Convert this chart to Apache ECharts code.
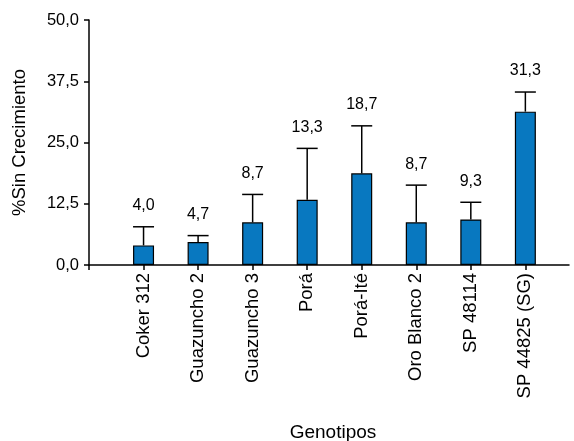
<!DOCTYPE html>
<html>
<head>
<meta charset="utf-8">
<script src="https://cdn.jsdelivr.net/npm/echarts@6/dist/echarts.min.js"></script>
<style>
  html, body { margin: 0; padding: 0; background: #ffffff; }
  #chart { width: 574px; height: 441px; }
</style>
</head>
<body>
<div id="chart"></div>
<script>
// Genotypes and their mean % without growth, with the upper error (SD) of each
const genotipos = ['Coker 312', 'Guazuncho 2', 'Guazuncho 3', 'Porá', 'Porá-Ité', 'Oro Blanco 2', 'SP 48114', 'SP 44825 (SG)'];
const medias = [4.0, 4.7, 8.7, 13.3, 18.7, 8.7, 9.3, 31.3];
const errores = [3.8, 1.3, 5.7, 10.5, 9.7, 7.6, 3.5, 4.0];
const yTicks = [0, 12.5, 25, 37.5, 50];

const fmt = v => v.toFixed(1).replace('.', ',');
const FONT = 'Liberation Sans, Arial, sans-serif';

const barData = medias.map((m, i) => [i, m]);
const errData = medias.map((m, i) => [i, m, errores[i]]);
const catIdx = genotipos.map((_, i) => i);

const chart = echarts.init(document.getElementById('chart'), null, { renderer: 'canvas' });

chart.setOption({
  animation: false,
  backgroundColor: '#ffffff',
  grid: { left: 89, right: 5, top: 20, bottom: 176, containLabel: false, outerBoundsMode: 'none' },
  xAxis: {
    type: 'value',
    min: -1,
    max: 7.8,
    interval: 1,
    name: 'Genotipos',
    nameLocation: 'middle',
    nameGap: 158,
    nameTextStyle: { fontFamily: FONT, fontSize: 19, color: '#000', padding: [0, 0, 0, 8] },
    splitLine: { show: false },
    axisLine: { show: true, onZero: false, lineStyle: { color: '#000', width: 1.5 } },
    axisTick: { show: true, length: 5, lineStyle: { color: '#000', width: 1.5 },
                customValues: [-1].concat(catIdx) },
    axisLabel: {
      customValues: catIdx,
      rotate: 90,
      margin: 8,
      fontFamily: FONT, fontSize: 18.5, color: '#000',
      formatter: v => genotipos[Math.round(v)] || ''
    }
  },
  yAxis: {
    type: 'value',
    min: yTicks[0],
    max: yTicks[yTicks.length - 1],
    interval: 12.5,
    name: '%Sin Crecimiento',
    nameLocation: 'middle',
    nameGap: 60,
    nameTextStyle: { fontFamily: FONT, fontSize: 18.5, color: '#000' },
    splitLine: { show: false },
    axisLine: { show: true, onZero: false, lineStyle: { color: '#000', width: 1.5 } },
    axisTick: { show: true, length: 5, lineStyle: { color: '#000', width: 1.5 } },
    axisLabel: { margin: 10, fontFamily: FONT, fontSize: 16.5, color: '#000', formatter: v => fmt(v) }
  },
  series: [
    {
      type: 'bar',
      data: barData,
      barWidth: 21,
      itemStyle: { color: '#0878c0', borderColor: '#000', borderWidth: 1.2 },
      z: 2
    },
    {
      // upper error bar with cap, plus the mean written above it
      type: 'custom',
      data: errData,
      z: 3,
      renderItem: (params, api) => {
        const i = api.value(0), m = api.value(1), e = api.value(2);
        const base = api.coord([i, m]);
        const top = api.coord([i, m + e]);
        const half = 10.5;
        return {
          type: 'group',
          children: [
            { type: 'line', shape: { x1: base[0], y1: base[1], x2: top[0], y2: top[1] },
              style: { stroke: '#000', lineWidth: 1.5 } },
            { type: 'line', shape: { x1: top[0] - half, y1: top[1], x2: top[0] + half, y2: top[1] },
              style: { stroke: '#000', lineWidth: 1.5 } },
            { type: 'text', x: top[0], y: top[1] - 21,
              style: { text: fmt(m), font: '16px ' + FONT, fill: '#000', align: 'center', verticalAlign: 'middle' } }
          ]
        };
      }
    }
  ]
});
</script>
</body>
</html>
